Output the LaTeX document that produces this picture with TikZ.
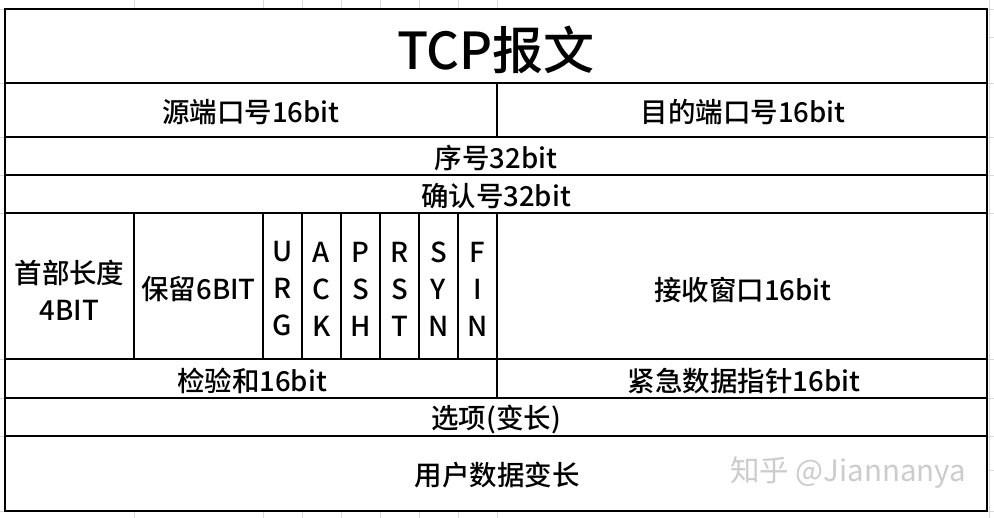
\documentclass[tikz,border=0pt]{standalone}
\usepackage{fontspec}
\setmainfont{Noto Sans CJK SC}[BoldFont={Noto Sans CJK SC Medium}]
\begin{document}
\begin{tikzpicture}[x=1pt,y=-1pt,
  cellline/.style={line width=1.7pt, black},
  faint/.style={gray!30, line width=0.6pt},
  txt/.style={font=\bfseries\fontsize{27.5}{37}\selectfont, inner sep=0pt, align=center},
  titletxt/.style={font=\bfseries\fontsize{51}{51}\selectfont, inner sep=0pt},
  wmtxt/.style={font=\fontsize{29.5}{29.5}\selectfont, text=gray!40, inner sep=0pt}]
\useasboundingbox[fill=white] (0,0) rectangle (994,518);
% faint spreadsheet gridlines
\foreach \x in {134,263,302,341,380,419,458,497} {
  \draw[faint] (\x,0) -- (\x,9);
  \draw[faint] (\x,511) -- (\x,518);
}
\foreach \y in {9,37,83,137,175,213,359,398,436,470,511} {
  \draw[faint] (987,\y) -- (994,\y);
}
\foreach \y in {9,83,137,175,213,359,398,436,511} {
  \draw[faint] (0,\y) -- (5,\y);
}
\draw[faint] (989,0) -- (989,518);
% table
\draw[cellline] (5,9) rectangle (987,511);
\foreach \y in {83,137,175,213,359,398,436} \draw[cellline] (5,\y) -- (987,\y);
\draw[cellline] (497,83) -- (497,137);
\draw[cellline] (497,213) -- (497,398);
\foreach \x in {134,263,302,341,380,419,458} \draw[cellline] (\x,213) -- (\x,359);
% texts
\node[titletxt] (title) at (496,50) {TCP报文};
\node[txt] (src) at (251,112) {源端口号16bit};
\node[txt] (dst) at (743,112) {目的端口号16bit};
\node[txt] (seq) at (496,158) {序号32bit};
\node[txt] (ack) at (496,196) {确认号32bit};
\node[txt] (hlen) at (69.5,290) {首部长度\\4BIT};
\node[txt] (rsv) at (198.5,289) {保留6BIT};
\node[txt] (furg) at (282.5,289) {U\\R\\G};
\node[txt] (fack) at (321.5,289) {A\\C\\K};
\node[txt] (fpsh) at (360.5,289) {P\\S\\H};
\node[txt] (frst) at (399.5,289) {R\\S\\T};
\node[txt] (fsyn) at (438.5,289) {S\\Y\\N};
\node[txt] (ffin) at (477.5,289) {F\\I\\N};
\node[txt] (win) at (743,290) {接收窗口16bit};
\node[txt] (chk) at (252,381) {检验和16bit};
\node[txt] (urgp) at (744,381) {紧急数据指针16bit};
\node[txt] (opt) at (496,419) {选项(变长)};
\node[txt] (data) at (497,475) {用户数据变长};
\node[wmtxt] (wm) at (848,473) {知乎 @Jiannanya};
\end{tikzpicture}
\end{document}
